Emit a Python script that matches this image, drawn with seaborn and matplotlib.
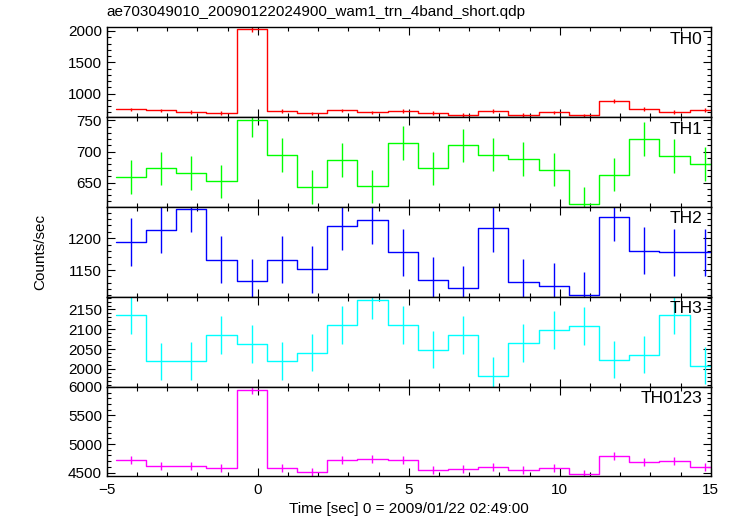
"""
WAM light curves, 4 energy bands + sum (qdp-style stacked panels)
"""

import numpy as np
import pandas as pd
import matplotlib
matplotlib.use("Agg")
import matplotlib.pyplot as plt
from matplotlib.ticker import MultipleLocator
import seaborn as sns

# ---------------------------------------------------------------------------
# Data
# ---------------------------------------------------------------------------
time = [-4.2, -3.2, -2.2, -1.2, -0.2, 0.8, 1.8, 2.8, 3.8, 4.8,
        5.8, 6.8, 7.8, 8.8, 9.8, 10.8, 11.8, 12.8, 13.8, 14.8]
bin_width = 1.0

th0 = [748, 732, 705, 695, 2026, 722, 684, 732, 700, 722,
       695, 663, 722, 663, 700, 652, 882, 753, 705, 743]
th0_err = [30, 30, 30, 30, 45, 30, 30, 30, 30, 30,
           30, 30, 30, 30, 30, 30, 32, 30, 30, 30]

th1 = [659, 673, 665, 652, 751, 694, 643, 686, 644, 714,
       673, 710, 695, 688, 671, 616, 663, 720, 693, 680]
th1_err = [27, 27, 27, 27, 28, 27, 27, 27, 27, 27,
           27, 27, 27, 27, 27, 27, 27, 28, 27, 27]

th2 = [1194, 1213, 1246, 1166, 1132, 1166, 1151, 1219, 1228, 1178,
       1134, 1121, 1216, 1131, 1125, 1111, 1233, 1180, 1178, 1178]
th2_err = [37, 37, 37, 37, 36, 37, 37, 37, 37, 37,
           36, 36, 37, 36, 36, 36, 37, 37, 37, 37]

th3 = [2136, 2019, 2020, 2085, 2062, 2020, 2041, 2110, 2175, 2112,
       2048, 2086, 1983, 2065, 2099, 2109, 2023, 2036, 2136, 2008]
th3_err = [48, 47, 47, 48, 48, 47, 47, 48, 48, 48,
           47, 48, 47, 48, 48, 48, 47, 47, 48, 47]

th0123 = [4719, 4621, 4610, 4576, 5948, 4581, 4512, 4719, 4731, 4714,
          4541, 4559, 4593, 4541, 4576, 4472, 4783, 4684, 4702, 4593]
th0123_err = [70, 68, 68, 68, 78, 68, 68, 70, 70, 70,
              68, 68, 68, 68, 68, 68, 70, 70, 70, 68]

bands = ["TH0", "TH1", "TH2", "TH3", "TH0123"]
values = [th0, th1, th2, th3, th0123]
errors = [th0_err, th1_err, th2_err, th3_err, th0123_err]
colors = ["#ff0000", "#00ff00", "#0000ff", "#00ffff", "#ff00ff"]
ylims = [(625, 2058), (610.7, 755.3), (1107.9, 1248.9), (1955, 2182), (4431, 6005)]
ymajor = [500, 50, 50, 50, 500]
yminor = [100, 10, 10, 10, 100]

TITLE = "ae703049010_20090122024900_wam1_trn_4band_short.qdp"

# ---------------------------------------------------------------------------
# Plot
# ---------------------------------------------------------------------------
sns.set_theme(style="ticks")
plt.rcParams["font.family"] = ["Liberation Sans", "DejaVu Sans"]
plt.rcParams["axes.unicode_minus"] = True
plt.rcParams["text.color"] = "black"
plt.rcParams["axes.labelcolor"] = "black"

fig, axes = plt.subplots(5, 1, sharex=True, figsize=(7.33, 5.16), dpi=100)
fig.subplots_adjust(left=0.1456, right=0.9696, top=0.947, bottom=0.0766, hspace=0)

for ax, name, y, yerr, col, ylim, mj, mn in zip(
        axes, bands, values, errors, colors, ylims, ymajor, yminor):
    t = np.array(time)
    # step outline: left edges + closing right edge of last bin
    edges = np.append(t - bin_width / 2, t[-1] + bin_width / 2)
    df = pd.DataFrame({"t": edges, "rate": np.append(y, y[-1])})
    sns.lineplot(data=df, x="t", y="rate", ax=ax, color=col,
                 drawstyle="steps-post", linewidth=1.0, sort=False)
    ax.vlines(t, np.array(y) - np.array(yerr), np.array(y) + np.array(yerr),
              color=col, linewidth=1.0)

    ax.set_xlim(-5, 15)
    ax.set_ylim(*ylim)
    ax.yaxis.set_major_locator(MultipleLocator(mj))
    ax.yaxis.set_minor_locator(MultipleLocator(mn))
    ax.xaxis.set_major_locator(MultipleLocator(5))
    ax.xaxis.set_minor_locator(MultipleLocator(1))
    ax.tick_params(which="both", direction="in", top=True, right=True,
                   labelsize=11, colors="black", width=0.8)
    ax.tick_params(which="major", length=6)
    ax.tick_params(which="minor", length=3)
    ax.tick_params(axis="x", pad=5)
    for sp in ax.spines.values():
        sp.set_linewidth(1.0)
        sp.set_color("black")
    ax.set_ylabel("")
    ax.set_xlabel("")
    ax.text(0.987, 0.95, name, transform=ax.transAxes, ha="right", va="top",
            fontsize=12.5, color="black")

axes[-1].set_xlabel("Time [sec] 0 = 2009/01/22 02:49:00", fontsize=11,
                    labelpad=3, color="black")
fig.text(0.1456, 0.963, TITLE, fontsize=11, ha="left", va="bottom", color="black")
fig.text(0.055, 0.512, "Counts/sec", fontsize=11, rotation=90,
         ha="center", va="center", color="black")

plt.savefig("out.png", dpi=100)
plt.close()
print("Saved out.png")
